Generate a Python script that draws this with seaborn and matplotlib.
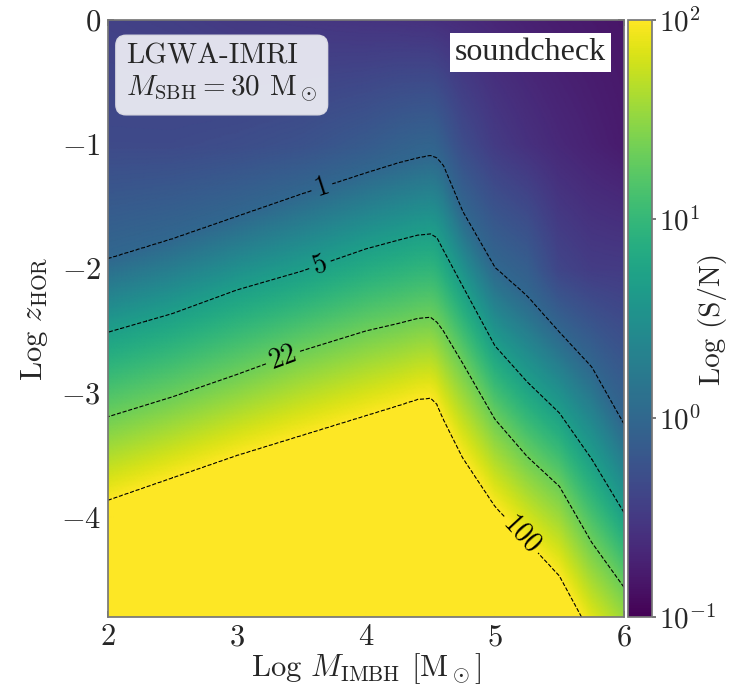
import numpy as np
import matplotlib
matplotlib.use("Agg")
import matplotlib.pyplot as plt
from matplotlib.colors import LogNorm
import seaborn as sns

# x positions (Log M_IMBH) where the contour heights were read
mass_knots = [2.0, 2.5, 3.0, 3.5, 4.0, 4.25, 4.4, 4.5, 4.55, 4.6, 4.75, 5.0, 5.25, 5.5, 5.75, 6.0]
# Log z_HOR of each S/N contour at those masses
z_snr1 = [-1.92, -1.76, -1.58, -1.40, -1.23, -1.15, -1.11, -1.09, -1.11, -1.17, -1.54, -1.99, -2.22, -2.51, -2.79, -3.25]
z_snr5 = [-2.51, -2.36, -2.17, -2.02, -1.84, -1.77, -1.73, -1.72, -1.75, -1.85, -2.14, -2.62, -2.91, -3.16, -3.53, -3.96]
z_snr22 = [-3.19, -3.03, -2.85, -2.66, -2.50, -2.44, -2.40, -2.39, -2.43, -2.50, -2.76, -3.21, -3.51, -3.75, -4.20, -4.56]
z_snr100 = [-3.86, -3.68, -3.50, -3.34, -3.18, -3.10, -3.05, -3.04, -3.09, -3.21, -3.52, -3.91, -4.19, -4.47, -4.95, -5.30]
logsnr_z0 = [-0.42, -0.45, -0.50, -0.52, -0.55, -0.56, -0.575, -0.58, -0.59, -0.60, -0.63, -0.68, -0.73, -0.77, -0.80, -0.83]
logsnr_z1 = [-0.33, -0.33, -0.30, -0.25, -0.15, -0.08, -0.05, -0.04, -0.06, -0.12, -0.30, -0.48, -0.58, -0.66, -0.72, -0.78]
logsnr_z2 = [np.nan] * 12 + [-0.10, -0.38, -0.47, -0.48]
levels = [1, 5, 22, 100]

sns.set_theme(style="ticks")
plt.rcParams["font.family"] = "serif"
plt.rcParams["font.serif"] = ["cmr10"]
plt.rcParams["mathtext.fontset"] = "cm"
plt.rcParams["axes.formatter.use_mathtext"] = True
plt.rcParams["axes.unicode_minus"] = True

# build the S/N map column by column through the read values
mx = np.linspace(2, 6, 401)
zy = np.linspace(-4.8, 0, 481)
logsnr = np.empty((len(zy), len(mx)))
for i, m in enumerate(mx):
    k = np.interp(m, mass_knots, range(len(mass_knots)))
    j = min(int(k), len(mass_knots) - 2)
    f = k - j

    def at(row):
        return row[j] * (1 - f) + row[j + 1] * f

    c1 = at(z_snr1)
    ys = [-8.0, at(z_snr100), at(z_snr22), at(z_snr5), c1]
    vs = [4.0, 2.0, np.log10(22), np.log10(5), 0.0]
    for zr, row in ((-2.0, logsnr_z2), (-1.0, logsnr_z1), (0.0, logsnr_z0)):
        v = at(row)
        if zr > c1 + 0.05 and not np.isnan(v):
            ys.append(zr)
            vs.append(v)
    logsnr[:, i] = np.interp(zy, ys, vs)
snr = 10 ** logsnr

fig = plt.figure(figsize=(7.39, 6.89), dpi=100)
ax = fig.add_axes([0.1461, 0.1045, 0.6982, 0.8665])
cax = fig.add_axes([0.8498, 0.1045, 0.0325, 0.8665])

norm = LogNorm(vmin=0.1, vmax=100)
mesh = ax.pcolormesh(mx, zy, snr, cmap="viridis", norm=norm, shading="gouraud", rasterized=True)
cs = ax.contour(mx, zy, snr, levels=levels, colors="black", linestyles="--", linewidths=0.8)
ax.clabel(cs, fmt="%d", fontsize=20, inline=True, inline_spacing=4,
          manual=[(3.66, -1.35), (3.64, -1.97), (3.36, -2.73), (5.19, -4.15)])

ax.set_xlim(2, 6)
ax.set_ylim(-4.8, 0)
ax.set_xticks([2, 3, 4, 5, 6])
ax.set_yticks([0, -1, -2, -3, -4])
ax.tick_params(direction="in", top=True, right=True, labelsize=22, length=4, color="#666666", pad=5)
for s in ax.spines.values():
    s.set_color("#777777")
ax.set_xlabel(r"Log $M_{\rm IMBH}$ [M$_\odot$]", fontsize=22, labelpad=0)
ax.set_ylabel(r"Log $z_{\rm HOR}$", fontsize=22, labelpad=8)

ax.text(0.035, 0.962, "LGWA-IMRI\n" + r"$M_{\rm SBH} = 30$ M$_\odot$", transform=ax.transAxes,
        fontsize=21, va="top", ha="left", linespacing=1.2,
        bbox=dict(boxstyle="round,pad=0.35", fc="#eaeaf2", ec="#dcdce4", alpha=0.95))
ax.text(0.965, 0.97, "soundcheck", transform=ax.transAxes, fontsize=23, va="top", ha="right",
        family="Liberation Serif", bbox=dict(boxstyle="square,pad=0.15", fc="white", ec="none"))

cb = fig.colorbar(mesh, cax=cax)
cb.set_ticks([0.1, 1, 10, 100])
cb.minorticks_off()
cb.ax.tick_params(labelsize=21, length=3, color="#666666", direction="out", pad=2)
cb.outline.set_edgecolor("#777777")
cb.set_label("Log (S/N)", fontsize=21)
cb.ax.yaxis.set_label_coords(3.5, 0.5)
cb.ax.yaxis.label.set_verticalalignment("center")

fig.savefig("out.png", dpi=100)
